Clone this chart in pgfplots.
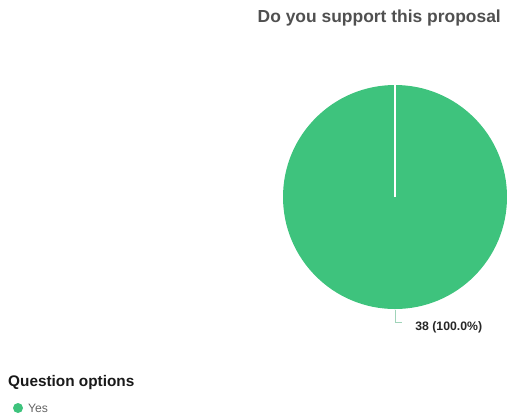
\documentclass[border=0pt]{standalone}
\usepackage{pgfplots}
\pgfplotsset{compat=1.18}
\usepackage{pgfplotstable}
\usepackage{fontspec}
\setmainfont{Liberation Sans}
\definecolor{pieGreen}{RGB}{62,195,125}
\definecolor{titleGray}{RGB}{80,80,80}
\definecolor{leader}{RGB}{160,212,185}
\definecolor{yesGray}{RGB}{100,100,100}
\pgfplotstableread{
label value
Yes 38
}\piedata
\begin{document}
\begin{tikzpicture}[x=1bp,y=-1bp]
\useasboundingbox (0,0) rectangle (507,419);
\pgfplotstablegetelem{0}{value}\of\piedata
\let\yesval\pgfplotsretval
\pgfmathsetmacro{\total}{\yesval}
\pgfmathsetmacro{\sweep}{360*\yesval/\total}
\begin{axis}[
  at={(395bp,-197bp)}, anchor=center,
  width=224bp, height=224bp, scale only axis,
  xmin=-1, xmax=1, ymin=-1, ymax=1,
  hide axis, clip=false,
]
\addplot[draw=none, forget plot] coordinates {(0,0)};
\fill[pieGreen] (axis cs:0,0) -- (axis cs:0,1) arc[start angle=90, delta angle=-\sweep, radius=112bp] -- cycle;
\draw[white, line width=1.5bp] (axis cs:0,0) -- (axis cs:0,1);
\draw[leader, line width=0.8bp] (axis cs:0,-1.01) -- (axis cs:0,-1.12) -- (axis cs:0.065,-1.12);
\node[anchor=west, font=\bfseries\fontsize{12.3}{14}\selectfont, text=black!85, inner sep=0pt] at (axis cs:0.18,-1.166) {\yesval\ (100.0\%)};
\end{axis}
\node[anchor=east, inner sep=0pt, font=\bfseries\fontsize{17.5}{20}\selectfont, text=titleGray] at (501,18) {Do you support this proposal};
\node[anchor=west, inner sep=0pt, font=\bfseries\fontsize{15.4}{18}\selectfont, text=black!90] at (8,383) {Question options};
\fill[pieGreen] (18,408) circle[radius=5];
\node[anchor=west, inner sep=0pt, font=\fontsize{12.2}{14}\selectfont, text=yesGray] at (28,408) {Yes};
\end{tikzpicture}
\end{document}
